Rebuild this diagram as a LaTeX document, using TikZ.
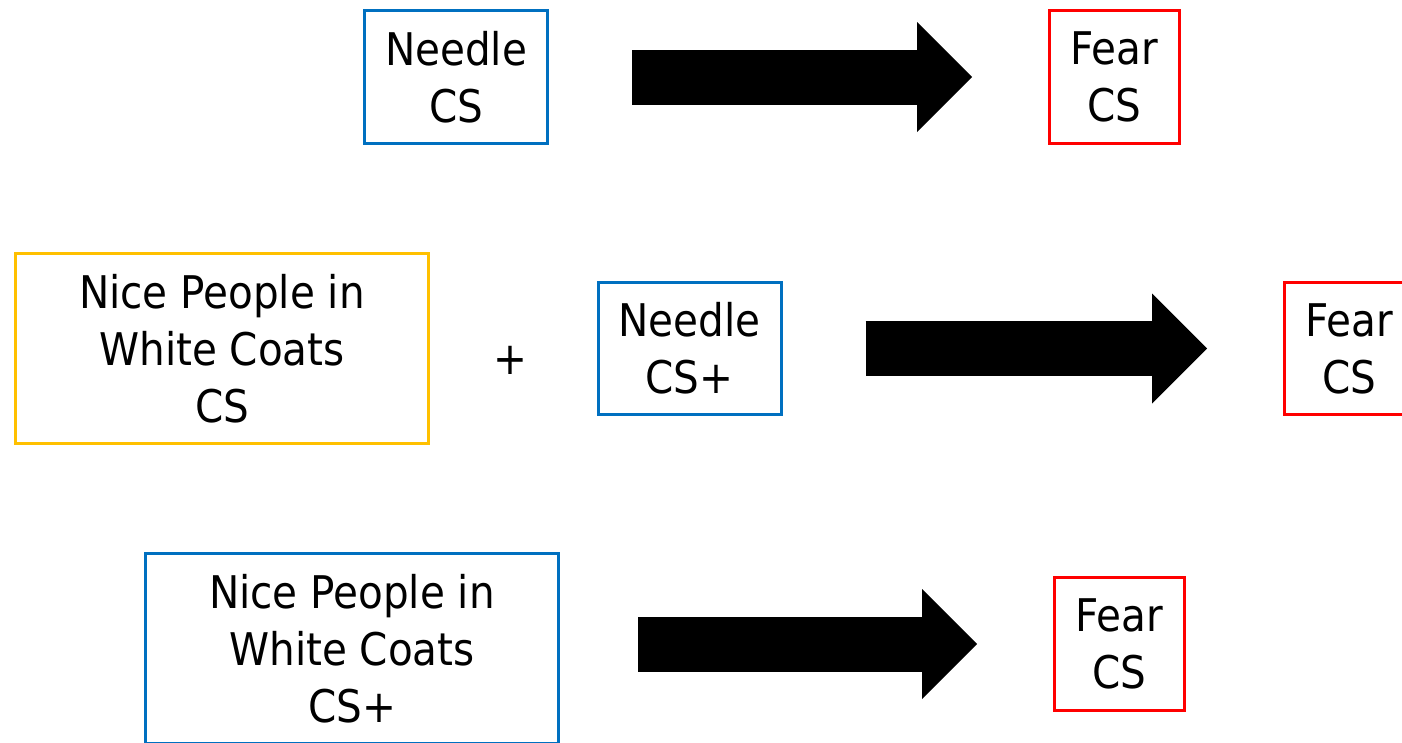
\documentclass[tikz,border=0pt]{standalone}
\usepackage{fontspec}
\setmainfont{DejaVu Sans Condensed}
\usetikzlibrary{arrows.meta}

\definecolor{csblue}{HTML}{0070C0}
\definecolor{csred}{HTML}{FF0000}
\definecolor{csgold}{HTML}{FFC000}

\begin{document}
\begin{tikzpicture}[
    x=1pt, y=-1pt,
    box/.style={
        draw,
        line width=3pt,
        align=center,
        inner sep=0pt,
        font=\fontsize{45}{57}\selectfont
    },
    csbox/.style={box, minimum width=183pt, minimum height=133pt},
    fearbox/.style={box, draw=csred, minimum width=130pt, minimum height=133pt},
    widebox/.style={box, minimum width=413pt, minimum height=190pt},
    bigarrow/.style={
        line width=55pt,
        -{Triangle[length=55pt, width=110pt, line width'=0pt]},
        shorten <=83pt, shorten >=76pt
    }
]

\clip (0,0) rectangle (1402,742);

% Row 1
\node[csbox, draw=csblue] (needle1) at (456,77) {Needle\\CS};
\node[fearbox] (fear1) at (1114.5,77) {Fear\\CS};

\draw[bigarrow] (needle1) -- (fear1);

% Row 2
\node[widebox, draw=csgold] (coats2) at (222,348.5) {Nice People in\\White Coats\\CS};
\node[box, draw=none] (plus) at (510,360) {+};
\node[csbox, draw=csblue, minimum height=132pt] (needle2) at (689.5,348.5) {Needle\\CS+};
\node[fearbox, minimum height=132pt] (fear2) at (1349.5,348.5) {Fear\\CS};

\draw[bigarrow] (needle2) -- (fear2);

% Row 3
\node[widebox, draw=csblue] (coats3) at (352,648.5) {Nice People in\\White Coats\\CS+};
\node[fearbox] (fear3) at (1119.5,644) {Fear\\CS};

\draw[bigarrow, shorten <=78pt] (coats3.east |- fear3) -- (fear3);

\end{tikzpicture}
\end{document}
